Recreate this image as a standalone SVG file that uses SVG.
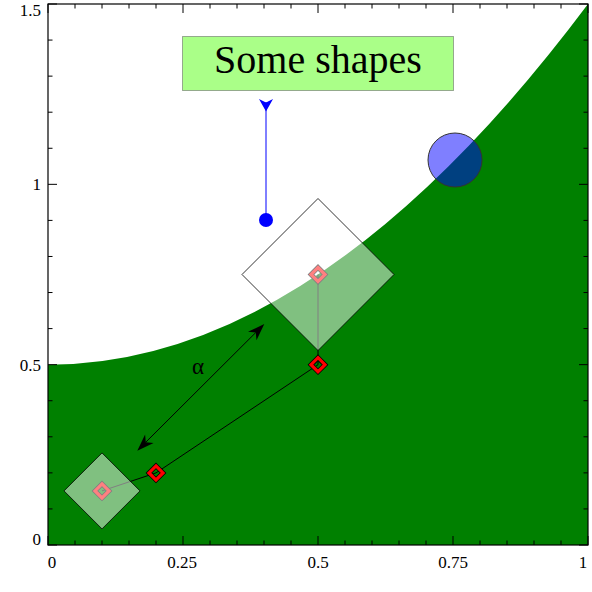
<svg xmlns="http://www.w3.org/2000/svg" width="592" height="592" viewBox="0 0 592 592">
<style>
.lbl{font-family:"Liberation Serif","Times New Roman",serif;font-size:17px;fill:#000}
.tick{stroke:#000;stroke-width:1}
.dia{fill:#fff;fill-opacity:0.5;stroke:#000;stroke-width:0.8}
</style>
<defs>
<g id="mk">
<path d="M0,-7 L7,0 L0,7 L-7,0 Z" fill="none" stroke="#000" stroke-width="4.8"/>
<path d="M0,-7 L7,0 L0,7 L-7,0 Z" fill="none" stroke="#f00" stroke-width="3.2"/>
</g>
</defs>
<rect width="592" height="592" fill="#fff"/>
<path id="area" d="M48,364.67 Q318,364.67 588,4 L588,545 L48,545 Z" fill="#008000"/>
<g id="axes">
<g class="tick">
<path d="M48,545V536M183,545V536M318,545V536M453,545V536M588,545V536"/>
<path d="M75,545V540.5M102,545V540.5M129,545V540.5M156,545V540.5M210,545V540.5M237,545V540.5M264,545V540.5M291,545V540.5M345,545V540.5M372,545V540.5M399,545V540.5M426,545V540.5M480,545V540.5M507,545V540.5M534,545V540.5M561,545V540.5"/>
<path d="M48,4V13M183,4V13M318,4V13M453,4V13M588,4V13"/>
<path d="M75,4V8.5M102,4V8.5M129,4V8.5M156,4V8.5M210,4V8.5M237,4V8.5M264,4V8.5M291,4V8.5M345,4V8.5M372,4V8.5M399,4V8.5M426,4V8.5M480,4V8.5M507,4V8.5M534,4V8.5M561,4V8.5"/>
<path d="M48,545H57M48,364.67H57M48,184.33H57M48,4H57"/>
<path d="M48,508.93H52.5M48,472.87H52.5M48,436.8H52.5M48,400.73H52.5M48,328.6H52.5M48,292.53H52.5M48,256.47H52.5M48,220.4H52.5M48,148.27H52.5M48,112.2H52.5M48,76.13H52.5M48,40.07H52.5"/>
<path d="M588,545H579M588,364.67H579M588,184.33H579M588,4H579"/>
<path d="M588,508.93H583.5M588,472.87H583.5M588,436.8H583.5M588,400.73H583.5M588,328.6H583.5M588,292.53H583.5M588,256.47H583.5M588,220.4H583.5M588,148.27H583.5M588,112.2H583.5M588,76.13H583.5M588,40.07H583.5"/>
</g>
<rect x="48" y="4" width="540" height="541" fill="none" stroke="#000" stroke-width="1.2"/>
<g class="lbl" text-anchor="middle">
<text x="52" y="568">0</text>
<text x="182" y="568">0.25</text>
<text x="318" y="568">0.5</text>
<text x="453" y="568">0.75</text>
<text x="583" y="568">1</text>
</g>
<g class="lbl" text-anchor="end">
<text x="41" y="16">1.5</text>
<text x="41" y="190">1</text>
<text x="41" y="371">0.5</text>
<text x="41" y="545">0</text>
</g>
</g>
<g id="connectors">
<polyline points="102,490.9 156,472.9 318,364.7 318,274.5" fill="none" stroke="#000" stroke-width="1"/>
<use href="#mk" x="102" y="490.9"/>
<use href="#mk" x="156" y="472.9"/>
<use href="#mk" x="318" y="364.7"/>
<use href="#mk" x="318" y="274.5"/>
<g id="alpha-arrow">
<line x1="145.8" y1="442.2" x2="255.8" y2="332.5" stroke="#000" stroke-width="1"/>
<polygon points="264.3,324 256.5,340.25 255.8,332.5 248,331.75" fill="#000"/>
<polygon points="137.3,450.7 145.1,434.45 145.8,442.2 153.58,442.95" fill="#000"/>
<text x="198" y="374" text-anchor="middle" font-family="Liberation Serif,serif" font-size="23">α</text>
</g>
<g id="blue-arrow">
<line x1="266" y1="220" x2="266" y2="102" stroke="#00f" stroke-width="1"/>
<polygon points="259,99 266,102.5 273,99 266,111.5" fill="#00f"/>
</g>
</g>
<g id="small-square">
<path class="dia" d="M102,452.9 L140,490.9 L102,528.9 L64,490.9 Z"/>
</g>
<g id="big-square">
<path class="dia" d="M318,198.5 L394,274.5 L318,350.5 L242,274.5 Z"/>
</g>
<g id="circle">
<circle cx="455" cy="160" r="27" fill="#00f" fill-opacity="0.5" stroke="#333" stroke-width="1"/>
</g>
<g id="dot">
<circle cx="266" cy="220" r="7" fill="#00f"/>
</g>
<g id="title">
<rect x="182.5" y="36.5" width="271" height="54" fill="#aaff88" stroke="#555" stroke-width="1" stroke-dasharray="1,1"/>
<text x="318" y="73" text-anchor="middle" font-family="Liberation Serif,serif" font-size="40">Some shapes</text>
</g>
</svg>
